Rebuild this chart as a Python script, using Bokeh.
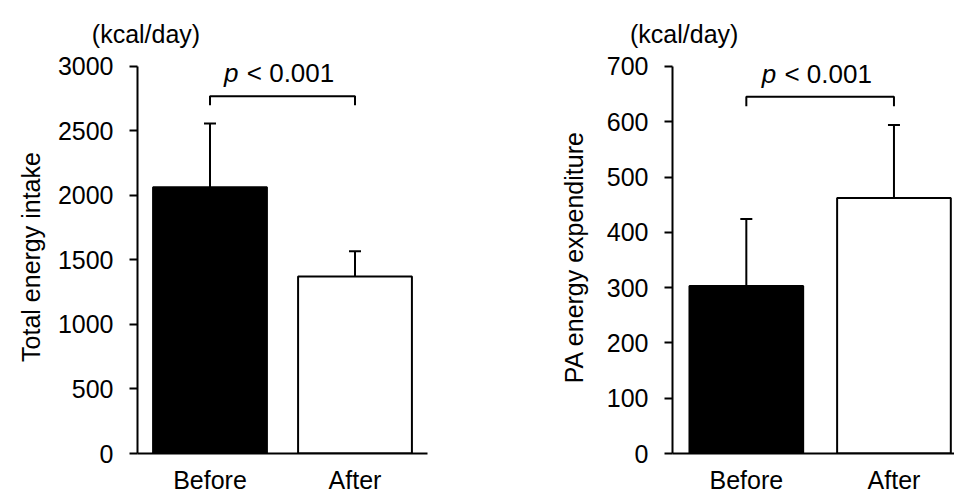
from bokeh.plotting import figure
from bokeh.layouts import row
from bokeh.models import (Range1d, Whisker, TeeHead, Label, FixedTicker, ColumnDataSource,
                          LinearAxis, Title)
from bokeh.embed import file_html
from bokeh.resources import INLINE

# ---- data ----
categories = ["Before", "After"]
intake_mean = [2063, 1371]
intake_sd = [495, 197]
pa_mean = [303, 462]
pa_sd = [121, 132]
intake_ticks = [0, 500, 1000, 1500, 2000, 2500, 3000]
pa_ticks = [0, 100, 200, 300, 400, 500, 600, 700]
intake_ylabel = "Total energy intake"
pa_ylabel = "PA energy expenditure"
unit_text = "(kcal/day)"
p_symbol = "p"
p_rest = "< 0.001"
# bracket (top value, drop) for significance marks
intake_bracket = [2770, 70]
pa_bracket = [645, 17]

# ---- styles / layout ----
FONT = "Liberation Sans"
bar_fill = ["black", "white"]
AXIS_PX = 390      # pixel height of the 0..max axis
FRAME_TOP = 60     # frame top in pixels (room for annotations above the axis top)
BOTTOM = 40


def make_panel(means, sds, ticks, ylabel, bracket, width, border_left, x_end,
               bar_width, label_standoff, label_shift, unit_shift_px):
    xs = [i + 0.5 for i in range(len(categories))]
    ymax = ticks[-1]
    frame_w = 290 if width - border_left >= 290 else width - border_left
    frame_h = 496 - FRAME_TOP - BOTTOM
    y_end = ymax * frame_h / AXIS_PX
    p = figure(width=width, height=496, output_backend="svg", toolbar_location=None,
               title=None,
               x_range=Range1d(0, x_end), y_range=Range1d(0, y_end),
               min_border_left=border_left, min_border_right=width - border_left - frame_w,
               min_border_top=FRAME_TOP, min_border_bottom=BOTTOM)
    p.outline_line_color = None
    p.xgrid.visible = False
    p.ygrid.visible = False
    p.background_fill_color = "white"
    p.border_fill_color = "white"

    src = ColumnDataSource(dict(x=xs, top=means,
                                upper=[m + s for m, s in zip(means, sds)],
                                fill=bar_fill))
    p.vbar(x="x", top="top", width=bar_width, bottom=0, source=src,
           fill_color="fill", line_color="black", line_width=2)
    w = Whisker(base="x", lower="top", upper="upper", source=src,
                upper_head=TeeHead(size=12, line_color="black", line_width=2),
                lower_head=None, line_color="black", line_width=2)
    p.add_layout(w)

    # significance bracket
    top, drop = bracket
    p.line(x=[xs[0], xs[0], xs[1], xs[1]], y=[top - drop, top, top, top - drop],
           line_color="black", line_width=2)
    mid = (xs[0] + xs[1]) / 2
    p.add_layout(Label(x=mid, y=top, text=p_symbol, x_offset=-44, y_offset=23,
                       text_font=FONT, text_font_size="26px", text_font_style="italic",
                       text_color="black", text_align="right", text_baseline="alphabetic"))
    p.add_layout(Label(x=mid, y=top, text=p_rest, x_offset=8, y_offset=23,
                       text_font=FONT, text_font_size="26px",
                       text_color="black", text_align="center", text_baseline="alphabetic"))

    # axes
    yax = p.yaxis[0]
    yax.bounds = (0, ymax)
    yax.ticker = FixedTicker(ticks=ticks)
    yax.axis_line_width = 2
    yax.axis_line_color = "black"
    yax.major_tick_out = 8
    yax.major_tick_in = 0
    yax.major_tick_line_width = 2
    yax.major_tick_line_color = "black"
    yax.minor_tick_line_color = None
    yax.major_label_standoff = 16
    yax.major_label_text_font = FONT
    yax.major_label_text_font_size = "25px"
    yax.major_label_text_color = "black"

    # y axis title, as a side title so that it can be shifted along the axis
    p.add_layout(Title(text=ylabel, align="center", offset=label_shift,
                       standoff=label_standoff, text_font=FONT, text_font_size="25px",
                       text_font_style="normal", text_color="black"), "left")

    xax = p.xaxis[0]
    xax.ticker = FixedTicker(ticks=xs)
    xax.major_label_overrides = {x: c for x, c in zip(xs, categories)}
    xax.axis_line_width = 2
    xax.axis_line_color = "black"
    xax.major_tick_out = 0
    xax.major_tick_in = 0
    xax.minor_tick_line_color = None
    xax.major_label_standoff = 12
    xax.major_label_text_font = FONT
    xax.major_label_text_font_size = "25px"
    xax.major_label_text_color = "black"

    # unit text above the y axis, as a label-only axis on top
    ux = unit_shift_px * x_end / frame_w
    uax = LinearAxis(ticker=FixedTicker(ticks=[ux]),
                     major_label_overrides={ux: unit_text},
                     axis_line_color=None, major_tick_line_color=None,
                     minor_tick_line_color=None, major_tick_out=0, major_tick_in=0,
                     major_label_standoff=13,
                     major_label_text_font=FONT, major_label_text_font_size="25px",
                     major_label_text_color="black")
    p.add_layout(uax, "above")
    return p


p1 = make_panel(intake_mean, intake_sd, intake_ticks, intake_ylabel, intake_bracket,
                width=540, border_left=137, x_end=2.0, bar_width=0.785,
                label_standoff=20, label_shift=10, unit_shift_px=8.5)
p2 = make_panel(pa_mean, pa_sd, pa_ticks, pa_ylabel, pa_bracket,
                width=414, border_left=132, x_end=1.91, bar_width=0.77,
                label_standoff=32, label_shift=19, unit_shift_px=11.7)

layout = row(p1, p2)
open("out.html", "w").write(file_html(layout, INLINE))
